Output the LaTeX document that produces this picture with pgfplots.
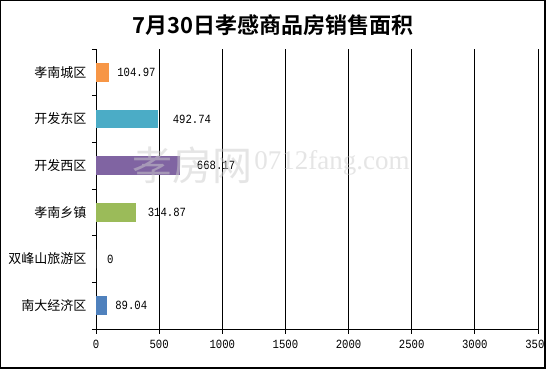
\documentclass[border=0pt]{standalone}
\usepackage{fontspec}
\setmainfont{Noto Sans CJK SC}[BoldFont={Noto Sans CJK SC Bold}]
\newfontfamily\numfont{Liberation Mono}[FakeStretch=0.85]
\newfontfamily\wmserif{Liberation Serif}
\usepackage{pgfplots}
\pgfplotsset{compat=1.18}
\definecolor{cOrange}{HTML}{F79646}
\definecolor{cTeal}{HTML}{4BACC6}
\definecolor{cPurple}{HTML}{8064A2}
\definecolor{cGreen}{HTML}{9BBB59}
\definecolor{cBlue}{HTML}{4F81BD}
\begin{document}
\begin{tikzpicture}[x=1pt,y=1pt]
\useasboundingbox (0,0) rectangle (546,369);
\fill[white] (0,0) rectangle (546,369);
\begin{axis}[at={(96pt,40pt)}, anchor=south west, scale only axis,
  width=442pt, height=280pt,
  xbar, bar width=0.4, bar shift=0pt,
  xmin=0, xmax=3500, ymin=-0.5, ymax=5.5,
  xtick={0,500,...,3500}, ytick={0,...,5},
  yticklabels={南大经济区,双峰山旅游区,孝南乡镇,开发西区,开发东区,孝南城区},
  minor ytick={-0.5,0.5,...,5.5},
  axis x line*=bottom, axis y line*=left,
  axis line style={-, black, line width=0.8pt},
  xmajorgrids, grid style={black, line width=0.8pt},
  tick align=outside, major tick length=5pt, minor tick length=4pt,
  major y tick style={draw=none},
  minor y tick style={black, line width=0.8pt},
  major x tick style={black, line width=0.8pt},
  /pgf/number format/assume math mode=true,
  /pgf/number format/1000 sep={},
  yticklabel style={font=\fontsize{13}{13}\selectfont, xshift=-1pt},
  xticklabel style={font=\numfont\fontsize{12.5}{12.5}\selectfont, yshift=-3pt},
  nodes near coords={\pgfmathprintnumber[fixed,precision=2]{\pgfplotspointmeta}},
  every node near coord/.append style={font=\numfont\fontsize{12.5}{12.5}\selectfont, anchor=west, black},
]
\addplot[fill=cOrange, draw=none, every node near coord/.append style={xshift=4.5pt}] coordinates {(104.97,5)};
\addplot[fill=cTeal, draw=none, every node near coord/.append style={xshift=11pt}] coordinates {(492.74,4)};
\addplot[fill=cPurple, draw=none, every node near coord/.append style={xshift=13pt}] coordinates {(668.17,3)};
\addplot[fill=cGreen, draw=none, every node near coord/.append style={xshift=8.5pt}] coordinates {(314.87,2)};
\addplot[fill=white, draw=none, every node near coord/.append style={xshift=7.5pt}] coordinates {(0,1)};
\addplot[fill=cBlue, draw=none, every node near coord/.append style={xshift=4.5pt}] coordinates {(89.04,0)};
\end{axis}
\node[font=\fontsize{22}{22}\selectfont\bfseries] at (273,344) {7月30日孝感商品房销售面积};
\node[font=\fontsize{40}{40}\selectfont, text=gray!40, opacity=0.5] at (192,204) {孝房网};
\node[font=\wmserif\fontsize{27}{27}\selectfont, text=gray!40, opacity=0.5] at (332,206) {0712fang.com};
\draw[line width=1.3pt] (0.65,0)--(0.65,368.35)--(546,368.35);
\fill[black] (543.5,0) rectangle (546,369);
\fill[black] (0,0) rectangle (546,2.3);
\end{tikzpicture}
\end{document}
